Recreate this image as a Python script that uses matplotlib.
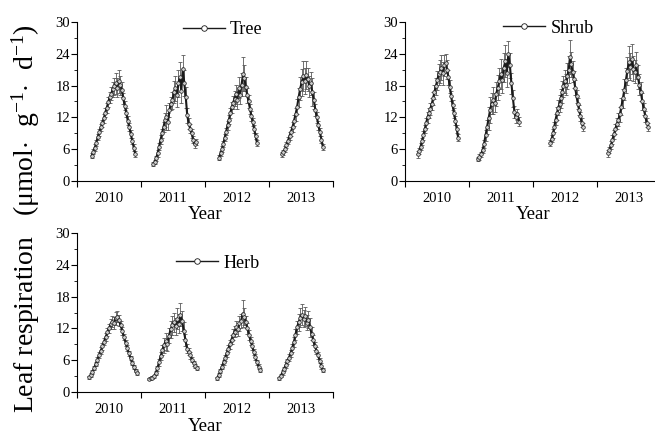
import matplotlib
matplotlib.use("Agg")
import matplotlib.pyplot as plt
import numpy as np

plt.rcParams["font.family"] = ["Liberation Serif", "DejaVu Serif"]
plt.rcParams["mathtext.fontset"] = "custom"
plt.rcParams["mathtext.rm"] = "Liberation Serif"
plt.rcParams["mathtext.it"] = "Liberation Serif:italic"

YEARS = [2010, 2011, 2012, 2013]

# day of year of the first and last sample in each growing season
tree_start = [84, 69, 80, 73]
tree_end = [332, 314, 296, 307]
shrub_start = [73, 51, 99, 62]
shrub_end = [303, 285, 285, 292]
herb_start = [69, 46, 69, 58]
herb_end = [343, 319, 314, 307]

tree_2010 = [4.8, 5.5, 6.3, 7.2, 8.3, 9.2, 10.1, 10.9, 11.8, 12.9, 13.8, 14.9, 15.8, 16.5, 17.3,
             17.9, 18.4, 17.6, 18.8, 18.1, 17.2, 15.6, 14.2, 12.9, 11.4, 10.2, 8.9, 7.6, 6.3, 5.1]
tree_2011 = [3.2, 3.6, 4.3, 5.2, 6.5, 7.8, 9.0, 10.2, 11.5, 12.0, 11.2, 13.4, 14.6, 15.2, 16.8,
             17.5, 16.2, 18.4, 19.6, 17.0, 21.2, 18.5, 15.8, 12.4, 10.8, 9.9, 9.0, 7.8, 6.9, 7.4]
tree_2012 = [4.4, 5.2, 6.0, 7.0, 8.2, 9.3, 10.5, 11.6, 12.8, 13.9, 14.8, 15.5, 16.4, 15.2, 17.6,
             16.3, 18.2, 20.1, 19.4, 17.8, 16.2, 15.0, 13.6, 12.3, 11.1, 9.8, 8.5, 7.2]
tree_2013 = [5.0, 5.4, 6.0, 6.8, 7.6, 8.5, 9.3, 10.2, 11.4, 12.6, 14.0, 15.8, 17.4, 18.6, 19.8,
             18.9, 20.0, 19.2, 17.9, 18.4, 16.8, 15.2, 13.4, 12.0, 10.5, 9.2, 7.8, 6.4]

tree_err_2010 = [0.5, 0.5, 0.6, 0.6, 0.6, 0.7, 0.7, 0.7, 0.8, 0.8, 0.9, 0.9, 1.0, 1.2, 1.4,
                 1.6, 2.0, 1.8, 2.2, 1.8, 1.4, 1.0, 0.9, 0.8, 0.8, 0.7, 0.7, 0.6, 0.6, 0.5]
tree_err_2011 = [0.4, 0.4, 0.5, 0.6, 0.7, 0.8, 0.9, 1.0, 1.4, 2.4, 1.6, 1.4, 1.2, 1.6, 2.0,
                 2.4, 2.2, 2.6, 2.8, 2.2, 2.6, 2.4, 2.0, 1.4, 1.0, 0.9, 0.8, 0.7, 0.6, 0.6]
tree_err_2012 = [0.5, 0.5, 0.6, 0.6, 0.7, 0.7, 0.8, 0.9, 1.0, 1.0, 1.2, 1.4, 1.8, 1.6, 2.0,
                 1.8, 2.2, 3.2, 2.4, 1.8, 1.4, 1.2, 1.0, 0.9, 0.8, 0.7, 0.6, 0.6]
tree_err_2013 = [0.5, 0.5, 0.6, 0.6, 0.7, 0.8, 0.9, 1.0, 1.0, 1.2, 1.4, 1.8, 2.2, 2.6, 2.8,
                 2.4, 2.6, 2.2, 2.0, 2.2, 2.6, 1.6, 1.2, 1.0, 0.9, 0.8, 0.7, 0.6]

shrub_2010 = [5.0, 5.6, 6.5, 7.5, 8.6, 9.8, 10.9, 12.0, 12.8, 13.6, 14.5, 15.6, 16.8, 17.9, 19.0,
              20.1, 20.6, 21.4, 20.3, 21.8, 22.2, 21.0, 19.6, 17.8, 16.0, 14.3, 12.8, 11.4, 9.8, 8.2]
shrub_2011 = [4.2, 4.5, 5.0, 5.8, 7.0, 8.6, 10.2, 11.8, 13.4, 14.6, 15.2, 14.8, 16.4, 17.6, 18.8,
              20.2, 19.0, 21.4, 22.6, 20.4, 24.0, 21.8, 18.4, 15.6, 13.0, 12.0, 12.6, 11.2]
shrub_2012 = [7.2, 8.0, 9.0, 10.2, 11.6, 12.8, 13.8, 14.6, 15.6, 16.8, 17.9, 18.8, 18.2, 19.8,
              21.0, 23.4, 22.0, 20.6, 19.2, 17.6, 16.0, 14.6, 13.4, 12.2, 11.0, 10.2]
shrub_2013 = [5.2, 5.8, 6.8, 7.8, 8.8, 9.8, 10.8, 11.6, 12.6, 14.0, 15.6, 17.2, 19.0, 20.8, 22.4,
              21.6, 23.0, 21.2, 20.6, 21.8, 19.6, 18.2, 16.8, 15.0, 13.6, 12.2, 11.0, 10.2]

shrub_err_2010 = [0.6, 0.6, 0.7, 0.7, 0.8, 0.8, 0.9, 1.0, 1.0, 1.1, 1.2, 1.2, 1.4, 1.6, 1.8,
                  2.0, 2.2, 2.4, 2.2, 2.0, 1.8, 1.8, 1.4, 1.2, 1.0, 1.0, 0.9, 0.8, 0.8, 0.7]
shrub_err_2011 = [0.4, 0.5, 0.5, 0.6, 0.8, 1.0, 1.4, 2.2, 2.4, 2.0, 2.6, 1.8, 2.2, 2.4, 2.6,
                  2.8, 2.4, 2.8, 3.0, 2.6, 2.4, 2.4, 2.0, 1.6, 1.2, 1.0, 1.0, 0.9]
shrub_err_2012 = [0.6, 0.7, 0.8, 0.9, 1.0, 1.2, 1.4, 1.6, 1.8, 2.0, 2.0, 2.2, 2.0, 2.4, 2.6,
                  3.2, 2.4, 2.0, 1.6, 1.4, 1.2, 1.0, 1.0, 0.9, 0.8, 0.7]
shrub_err_2013 = [0.6, 0.6, 0.7, 0.8, 0.9, 1.0, 1.0, 1.2, 1.4, 1.6, 1.8, 2.0, 2.4, 2.6, 3.0,
                  2.6, 2.8, 2.4, 2.2, 2.6, 2.2, 2.0, 1.8, 1.6, 1.2, 1.0, 0.9, 0.8]

herb_2010 = [2.8, 3.2, 3.8, 4.5, 5.3, 6.1, 7.0, 7.8, 8.6, 9.5, 10.4, 11.3, 12.0, 12.8, 13.3,
             13.0, 13.9, 14.2, 13.5, 12.6, 11.5, 10.4, 9.3, 8.3, 7.3, 6.4, 5.5, 4.7, 4.0, 3.5]
herb_2011 = [2.5, 2.6, 2.7, 3.0, 3.6, 4.5, 5.6, 6.8, 7.9, 8.8, 9.6, 9.0, 10.6, 11.8, 12.6,
             13.2, 12.4, 13.8, 12.9, 14.6, 13.4, 11.6, 9.8, 8.2, 7.6, 6.9, 6.1, 5.4, 4.9, 4.5]
herb_2012 = [2.6, 3.2, 4.0, 4.8, 5.6, 6.4, 7.3, 8.2, 9.0, 9.9, 10.8, 11.4, 12.2, 11.8, 13.0,
             13.4, 14.8, 14.2, 13.2, 12.0, 10.8, 9.6, 8.6, 7.6, 6.6, 5.6, 4.8, 4.2]
herb_2013 = [2.6, 3.1, 3.7, 4.4, 5.1, 5.8, 6.5, 7.3, 8.3, 9.4, 10.8, 12.2, 13.2, 14.0, 14.6,
             13.8, 14.3, 13.1, 13.6, 12.2, 11.0, 9.8, 8.7, 7.8, 6.9, 5.9, 4.9, 4.1]

herb_err_2010 = [0.3, 0.3, 0.4, 0.4, 0.4, 0.5, 0.5, 0.6, 0.6, 0.7, 0.7, 0.8, 0.9, 1.0, 1.1,
                 1.2, 1.2, 1.0, 1.0, 0.8, 0.7, 0.6, 0.6, 0.5, 0.5, 0.4, 0.4, 0.4, 0.3, 0.3]
herb_err_2011 = [0.2, 0.2, 0.3, 0.3, 0.4, 0.5, 0.6, 0.8, 1.0, 1.4, 1.6, 1.2, 1.4, 1.6, 1.8,
                 1.8, 1.6, 2.0, 1.8, 2.2, 1.8, 1.6, 1.2, 0.8, 0.7, 0.6, 0.5, 0.5, 0.4, 0.4]
herb_err_2012 = [0.3, 0.3, 0.4, 0.4, 0.5, 0.5, 0.6, 0.7, 0.8, 0.9, 1.0, 1.1, 1.2, 1.2, 1.4,
                 1.4, 2.6, 1.6, 1.2, 1.0, 0.9, 0.8, 0.7, 0.6, 0.5, 0.5, 0.4, 0.4]
herb_err_2013 = [0.3, 0.3, 0.4, 0.4, 0.5, 0.5, 0.6, 0.7, 0.8, 0.9, 1.0, 1.2, 1.6, 1.8, 2.0,
                 1.6, 1.8, 1.4, 1.6, 1.8, 1.2, 1.0, 0.8, 0.7, 0.6, 0.5, 0.5, 0.4]

panels = [
    ("Tree", tree_start, tree_end, [tree_2010, tree_2011, tree_2012, tree_2013],
     [tree_err_2010, tree_err_2011, tree_err_2012, tree_err_2013]),
    ("Shrub", shrub_start, shrub_end, [shrub_2010, shrub_2011, shrub_2012, shrub_2013],
     [shrub_err_2010, shrub_err_2011, shrub_err_2012, shrub_err_2013]),
    ("Herb", herb_start, herb_end, [herb_2010, herb_2011, herb_2012, herb_2013],
     [herb_err_2010, herb_err_2011, herb_err_2012, herb_err_2013]),
]

# axes rectangles and legend anchors
boxes = [[0.1176, 0.5868, 0.391, 0.3630],
         [0.6183, 0.5868, 0.391, 0.3630],
         [0.1176, 0.1050, 0.391, 0.3630]]
legend_pos = [(0.57, 1.05), (0.56, 1.06), (0.55, 0.91)]


def draw_panel(fig, box, name, starts, ends, series, errors, anchor):
    ax = fig.add_axes(box)
    for i, year in enumerate(YEARS):
        vals = np.array(series[i])
        days = np.linspace(starts[i], ends[i], len(vals))
        x = year + days / 365.0
        ax.errorbar(x, vals, yerr=errors[i], fmt="none", ecolor="#5a5a5a",
                    elinewidth=0.6, capsize=1.3, capthick=0.6, zorder=2)
        ax.plot(x, vals, "-", color="#1a1a1a", lw=1.5, marker="o", ms=2.6,
                mfc="#cfcfcf", mec="#1a1a1a", mew=0.5, zorder=3,
                label=name if i == 0 else None)

    ax.set_xlim(2010, 2014)
    ax.set_ylim(0, 30)
    ax.set_yticks(np.arange(0, 31, 6))
    ax.set_yticks(np.arange(3, 30, 6), minor=True)
    ax.set_xticks([2010, 2011, 2012, 2013, 2014])
    ax.set_xticklabels([])
    ax.set_xticks([y + 0.5 for y in YEARS], minor=True)
    ax.set_xticklabels([str(y) for y in YEARS], minor=True)
    ax.tick_params(axis="x", which="major", direction="out", length=4, width=0.8)
    ax.tick_params(axis="x", which="minor", length=0, labelsize=10.5, pad=8)
    ax.tick_params(axis="y", which="major", direction="out", length=4, width=0.8,
                   labelsize=10.5, pad=1)
    ax.tick_params(axis="y", which="minor", direction="out", length=2, width=0.6)
    ax.spines["top"].set_visible(False)
    ax.spines["right"].set_visible(False)
    ax.spines["left"].set_linewidth(0.8)
    ax.spines["bottom"].set_linewidth(0.8)
    ax.set_xlabel("Year", fontsize=13.5, labelpad=1)

    handle = plt.Line2D([], [], color="#1a1a1a", lw=1.0, marker="o", ms=4,
                        mfc="white", mec="#1a1a1a", mew=0.6)
    ax.legend([handle], [name], loc="upper center", bbox_to_anchor=anchor,
              frameon=False, fontsize=13, handlelength=2.3, handletextpad=0.3,
              borderaxespad=0)
    return ax


fig = plt.figure(figsize=(6.55, 4.38), dpi=100)
for box, (name, s, e, ser, err), anchor in zip(boxes, panels, legend_pos):
    draw_panel(fig, box, name, s, e, ser, err, anchor)

fig.text(0.04, 0.50, r"Leaf respiration   (μmol$\cdot$  g$^{-1}$$\cdot$  d$^{-1}$)",
         rotation=90, ha="center", va="center", fontsize=20)

fig.savefig("out.png", dpi=100)
